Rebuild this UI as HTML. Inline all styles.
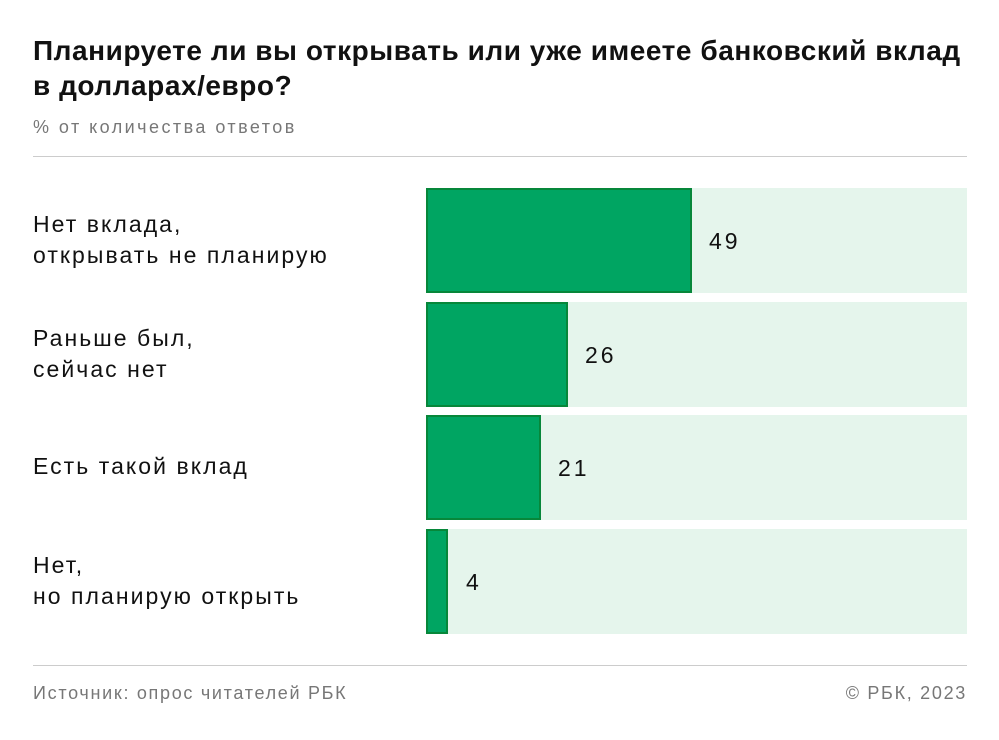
<!DOCTYPE html>
<html><head><meta charset="utf-8"><style>
body{margin:0;width:999px;height:740px;background:#fff;font-family:"Liberation Sans",sans-serif;position:relative;overflow:hidden}
.a{position:absolute}
.t{left:33px;top:33px;font-size:28px;font-weight:bold;line-height:35px;color:#111;letter-spacing:0.55px}
.s{left:33px;top:117px;font-size:18px;color:#777;letter-spacing:2.45px}
.hl{left:33px;width:934px;height:1px;background:#ccc}
.bg{left:426px;width:541px;background:#e5f5ec}
.b{left:426px;background:#00a562;border:2px solid #07873a;box-sizing:border-box}
.l{left:33px;font-size:23px;line-height:31px;color:#111;letter-spacing:2.05px}
.v{font-size:23px;color:#111;letter-spacing:3px}
.f{top:683px;font-size:18px;color:#777;letter-spacing:1.7px}
</style></head><body>
<div class="a t">Планируете ли вы открывать или уже имеете банковский вклад<br>в долларах/евро?</div>
<div class="a s">% от количества ответов</div>
<div class="a hl" style="top:156px"></div>

<div class="a bg" style="top:188px;height:105px"></div>
<div class="a b" style="top:188px;height:105px;width:266px"></div>
<div class="a v" style="left:709px;top:228px">49</div>
<div class="a l" style="top:209px">Нет вклада,<br>открывать не планирую</div>

<div class="a bg" style="top:302px;height:105px"></div>
<div class="a b" style="top:302px;height:105px;width:142px"></div>
<div class="a v" style="left:585px;top:342px">26</div>
<div class="a l" style="top:323px">Раньше был,<br>сейчас нет</div>

<div class="a bg" style="top:415px;height:105px"></div>
<div class="a b" style="top:415px;height:105px;width:115px"></div>
<div class="a v" style="left:558px;top:455px">21</div>
<div class="a l" style="top:451px">Есть такой вклад</div>

<div class="a bg" style="top:529px;height:105px"></div>
<div class="a b" style="top:529px;height:105px;width:22px"></div>
<div class="a v" style="left:466px;top:569px">4</div>
<div class="a l" style="top:550px">Нет,<br>но планирую открыть</div>

<div class="a hl" style="top:665px"></div>
<div class="a f" style="left:33px">Источник: опрос читателей РБК</div>
<div class="a f" style="right:32px">© РБК, 2023</div>
</body></html>
